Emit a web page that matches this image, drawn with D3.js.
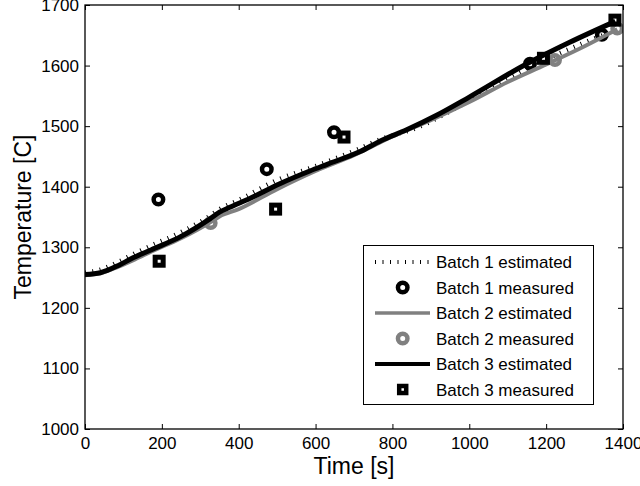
<!DOCTYPE html>
<html>
<head>
<meta charset="utf-8">
<script src="https://cdn.jsdelivr.net/npm/d3@7"></script>
<style>
  html, body { margin: 0; padding: 0; background: #fff; }
  svg { display: block; font-family: "Liberation Sans", Arial, Helvetica, sans-serif; }
</style>
</head>
<body>
<svg id="chart" width="640" height="486"></svg>
<script>
// Data ───────────────────────────────────────────────────────────────────────

var xTicks = [0, 200, 400, 600, 800, 1000, 1200, 1400];
var yTicks = [1000, 1100, 1200, 1300, 1400, 1500, 1600, 1700];

// estimated curves: time [s] and temperature [C]
var batch1EstTime = [0, 40, 87, 130, 173, 250, 325, 350, 400, 500, 600, 700, 780, 850, 1000, 1150, 1300, 1350];
var batch1EstTemp = [1258, 1263, 1276, 1290, 1303, 1325, 1352, 1363, 1378, 1411, 1434, 1459, 1481, 1494, 1542, 1595, 1638, 1651];

var batch2EstTime = [0, 40, 87, 130, 173, 250, 325, 350, 400, 500, 600, 700, 800, 900, 1000, 1100, 1200, 1300, 1385];
var batch2EstTemp = [1254, 1257, 1268, 1280, 1293, 1315, 1341, 1351, 1363, 1396, 1426, 1452, 1483, 1510, 1540, 1573, 1602, 1632, 1660];

var batch3EstTime = [0, 40, 87, 120, 173, 250, 325, 350, 377, 430, 507, 585, 630, 716, 770, 837, 915, 1000, 1150, 1260, 1380];
var batch3EstTemp = [1255, 1258, 1270, 1281, 1296, 1318, 1347, 1358, 1366, 1381, 1405, 1426, 1437, 1458, 1476, 1494, 1518, 1548, 1603, 1638, 1673];

// measured points
var batch1MeasTime = [191, 473, 648, 1158, 1345];
var batch1MeasTemp = [1379, 1429, 1490, 1603, 1651];

var batch2MeasTime = [327, 1223, 1385];
var batch2MeasTemp = [1340, 1609, 1661];

var batch3MeasTime = [193, 496, 674, 1193, 1379];
var batch3MeasTemp = [1277, 1363, 1482, 1612, 1675];

var legendLabels = ["Batch 1 estimated", "Batch 1 measured", "Batch 2 estimated",
                    "Batch 2 measured", "Batch 3 estimated", "Batch 3 measured"];

// Layout ──────────────────────────────────────────────────────────────────────

var GRAY = "#808080";
var FONT = "'Liberation Sans', Arial, sans-serif";
var plot = { left: 85, right: 623, top: 5, bottom: 429 };

var svg = d3.select("#chart");

var x = d3.scaleLinear().domain([0, 1400]).range([plot.left, plot.right]);
var y = d3.scaleLinear().domain([1000, 1700]).range([plot.bottom, plot.top]);

function zipPts(ts, vs) {
  return ts.map(function (t, i) { return [t, vs[i]]; });
}

svg.append("defs").append("clipPath").attr("id", "plot-clip")
  .append("rect")
  .attr("x", plot.left).attr("y", plot.top)
  .attr("width", plot.right - plot.left).attr("height", plot.bottom - plot.top);

var line = d3.line()
  .x(function (d) { return x(d[0]); })
  .y(function (d) { return y(d[1]); })
  .curve(d3.curveMonotoneX);

var g = svg.append("g").attr("clip-path", "url(#plot-clip)");

// markers
function drawCircles(sel, pts, color) {
  sel.selectAll(null).data(pts).enter().append("circle")
    .attr("cx", function (d) { return x(d[0]); })
    .attr("cy", function (d) { return y(d[1]); })
    .attr("r", 4.75)
    .attr("fill", "none")
    .attr("stroke", color)
    .attr("stroke-width", 4.5);
}
function drawSquares(sel, pts) {
  sel.selectAll(null).data(pts).enter().append("rect")
    .attr("x", function (d) { return x(d[0]) - 4; })
    .attr("y", function (d) { return y(d[1]) - 4; })
    .attr("width", 8).attr("height", 8)
    .attr("fill", "none")
    .attr("stroke", "#000")
    .attr("stroke-width", 5);
}

// Batch 1 estimated (dotted, mostly hidden under the others)
g.append("path").datum(zipPts(batch1EstTime, batch1EstTemp))
  .attr("d", line).attr("fill", "none")
  .attr("stroke", "#000").attr("stroke-width", 4.5)
  .attr("stroke-dasharray", "1,6.5");

drawCircles(g, zipPts(batch1MeasTime, batch1MeasTemp), "#000");

g.append("path").datum(zipPts(batch2EstTime, batch2EstTemp))
  .attr("d", line).attr("fill", "none")
  .attr("stroke", GRAY).attr("stroke-width", 4);

drawCircles(g, zipPts(batch2MeasTime, batch2MeasTemp), GRAY);

g.append("path").datum(zipPts(batch3EstTime, batch3EstTemp))
  .attr("d", line).attr("fill", "none")
  .attr("stroke", "#000").attr("stroke-width", 5)
  .attr("stroke-linejoin", "round");

drawSquares(g, zipPts(batch3MeasTime, batch3MeasTemp));

// Axes (box with inward ticks on all four sides) ─────────────────────────────

var TICK = 5;
var fmt = d3.format("d");
var axB = svg.append("g").attr("transform", "translate(0," + plot.bottom + ")")
  .call(d3.axisBottom(x).tickValues(xTicks).tickFormat(fmt).tickSizeInner(-TICK).tickSizeOuter(0).tickPadding(8));
var axT = svg.append("g").attr("transform", "translate(0," + plot.top + ")")
  .call(d3.axisTop(x).tickValues(xTicks).tickSizeInner(-TICK).tickSizeOuter(0).tickFormat(""));
var axL = svg.append("g").attr("transform", "translate(" + plot.left + ",0)")
  .call(d3.axisLeft(y).tickValues(yTicks).tickFormat(fmt).tickSizeInner(-TICK).tickSizeOuter(0).tickPadding(6));
var axR = svg.append("g").attr("transform", "translate(" + plot.right + ",0)")
  .call(d3.axisRight(y).tickValues(yTicks).tickSizeInner(-TICK).tickSizeOuter(0).tickFormat(""));

[axB, axT, axL, axR].forEach(function (a) {
  a.attr("font-family", FONT);
  a.select(".domain").remove();
  a.selectAll(".tick line").attr("stroke", "#000").attr("stroke-width", 1);
  a.selectAll("text").attr("font-size", "17px").attr("fill", "#000");
});

svg.append("rect")
  .attr("x", plot.left).attr("y", plot.top)
  .attr("width", plot.right - plot.left).attr("height", plot.bottom - plot.top)
  .attr("fill", "none").attr("stroke", "#000").attr("stroke-width", 1.3);

// axis titles
svg.append("text")
  .attr("x", (plot.left + plot.right) / 2).attr("y", 474)
  .attr("text-anchor", "middle").attr("font-size", "23px")
  .attr("font-family", FONT)
  .text("Time [s]");

svg.append("text")
  .attr("transform", "translate(31," + ((plot.top + plot.bottom) / 2) + ") rotate(-90)")
  .attr("text-anchor", "middle").attr("font-size", "23px")
  .attr("font-family", FONT)
  .text("Temperature [C]");

// Legend ──────────────────────────────────────────────────────────────────────

var leg = svg.append("g").attr("font-family", FONT);
leg.append("rect")
  .attr("x", 363.5).attr("y", 245.5).attr("width", 230).attr("height", 159)
  .attr("fill", "#fff").attr("stroke", "#000").attr("stroke-width", 1);

var rowY = function (i) { return 262 + i * 25.5; };
var sx0 = 375, sx1 = 430, smx = 402.7;

legendLabels.forEach(function (lab, i) {
  var cy = rowY(i);
  if (i === 0) {
    leg.append("line").attr("x1", sx0).attr("x2", sx1).attr("y1", cy).attr("y2", cy)
      .attr("stroke", "#000").attr("stroke-width", 4).attr("stroke-dasharray", "1,6.5");
  } else if (i === 1 || i === 3) {
    leg.append("circle").attr("cx", smx).attr("cy", cy).attr("r", 4.75)
      .attr("fill", "none").attr("stroke", i === 1 ? "#000" : GRAY).attr("stroke-width", 4.5);
  } else if (i === 2 || i === 4) {
    leg.append("line").attr("x1", sx0).attr("x2", sx1).attr("y1", cy).attr("y2", cy)
      .attr("stroke", i === 2 ? GRAY : "#000").attr("stroke-width", i === 2 ? 3.5 : 4);
  } else {
    leg.append("rect").attr("x", smx - 3.5).attr("y", cy - 3.5).attr("width", 7).attr("height", 7)
      .attr("fill", "none").attr("stroke", "#000").attr("stroke-width", 4.5);
  }
  leg.append("text").attr("x", 436).attr("y", cy + 6)
    .attr("font-size", "17px").text(lab);
});
</script>
</body>
</html>
